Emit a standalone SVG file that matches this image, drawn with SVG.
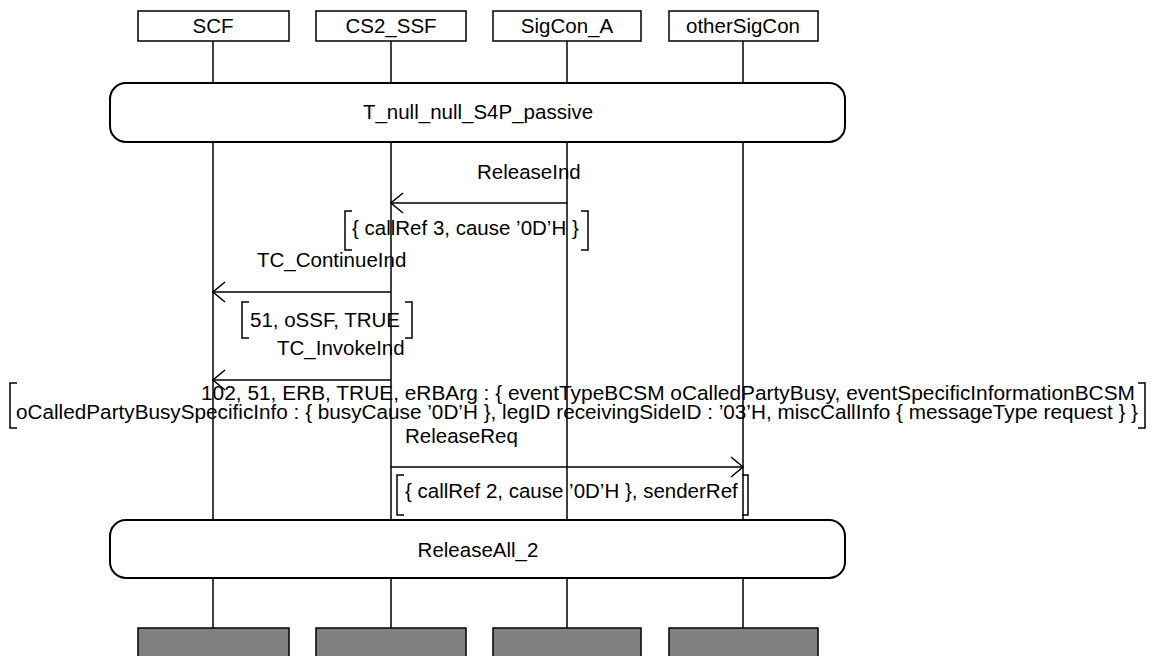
<svg xmlns="http://www.w3.org/2000/svg" width="1155" height="656" viewBox="0 0 1155 656">
<defs>
<style>
text{font-family:"Liberation Sans",Arial,sans-serif;font-size:20.5px;fill:#000}
.box{fill:#fff;stroke:#000;stroke-width:1.5}
.end{fill:#808080;stroke:#000;stroke-width:1.5}
.ref{fill:#fff;stroke:#000;stroke-width:2}
.life{stroke:#000;stroke-width:1.5;fill:none}
.msg{stroke:#000;stroke-width:1.5;fill:none}
.br{stroke:#000;stroke-width:1.5;fill:none}
.c{text-anchor:middle}
</style>
<marker id="arr" markerWidth="14" markerHeight="22" refX="13" refY="11" orient="auto" markerUnits="userSpaceOnUse">
<path d="M1,1 L13,11 L1,21" fill="none" stroke="#000" stroke-width="1.5"/>
</marker>
</defs>
<rect width="1155" height="656" fill="#fff"/>
<g id="lifelines">
<path class="life" d="M213,41V83M391,41V83M567,41V83M743,41V83"/>
<path class="life" d="M213,142V520M391,142V520M567,142V520M743,142V520"/>
<path class="life" d="M213,578V628M391,578V628M567,578V628M743,578V628"/>
</g>
<g id="SCF"><rect class="box" x="138" y="11" width="151" height="30"/><text class="c" x="213" y="33">SCF</text></g>
<g id="CS2_SSF"><rect class="box" x="316" y="11" width="150" height="30"/><text class="c" x="391" y="33">CS2_SSF</text></g>
<g id="SigCon_A"><rect class="box" x="493" y="11" width="148" height="30"/><text class="c" x="567" y="33">SigCon_A</text></g>
<g id="otherSigCon"><rect class="box" x="669" y="11" width="149" height="30"/><text class="c" x="743" y="33">otherSigCon</text></g>
<g id="T_null_null_S4P_passive"><rect class="ref" x="110" y="83" width="735" height="59" rx="16"/><text class="c" x="478" y="119">T_null_null_S4P_passive</text></g>
<g id="ReleaseAll_2"><rect class="ref" x="110" y="520" width="735" height="58" rx="16"/><text class="c" x="478" y="557">ReleaseAll_2</text></g>
<g id="end_SCF"><rect class="end" x="138" y="628" width="151" height="40"/></g>
<g id="end_CS2_SSF"><rect class="end" x="316" y="628" width="150" height="40"/></g>
<g id="end_SigCon_A"><rect class="end" x="493" y="628" width="148" height="40"/></g>
<g id="end_otherSigCon"><rect class="end" x="669" y="628" width="149" height="40"/></g>
<g id="connectors">
<line class="msg" x1="567" y1="203" x2="391" y2="203" marker-end="url(#arr)"/>
<line class="msg" x1="391" y1="292" x2="213" y2="292" marker-end="url(#arr)"/>
<line class="msg" x1="391" y1="380" x2="213" y2="380" marker-end="url(#arr)"/>
<line class="msg" x1="391" y1="467" x2="743" y2="467" marker-end="url(#arr)"/>
</g>
<g id="labels">
<text x="477" y="179">ReleaseInd</text>
<path class="br" d="M352,211H345V250H352M581,211H588V250H581"/>
<text x="352" y="235">{ callRef 3, cause ’0D’H }</text>
<text x="257" y="267">TC_ContinueInd</text>
<path class="br" d="M249,302H242V338H249M405,302H412V338H405"/>
<text x="250" y="327">51, oSSF, TRUE</text>
<text x="277" y="355">TC_InvokeInd</text>
<path class="br" d="M17,383H10V428H17M1138,383H1145V428H1138"/>
<text x="1135" y="400" text-anchor="end" textLength="934" lengthAdjust="spacingAndGlyphs">102, 51, ERB, TRUE, eRBArg : { eventTypeBCSM oCalledPartyBusy, eventSpecificInformationBCSM</text>
<text x="16" y="419" textLength="1122" lengthAdjust="spacingAndGlyphs">oCalledPartyBusySpecificInfo : { busyCause ’0D’H }, legID receivingSideID : ’03’H, miscCallInfo { messageType request } }</text>
<text x="405" y="443">ReleaseReq</text>
<path class="br" d="M404,475H397V515H404M742,475H748V515H742"/>
<text x="405" y="498">{ callRef 2, cause ’0D’H }, senderRef</text>
</g>
</svg>
